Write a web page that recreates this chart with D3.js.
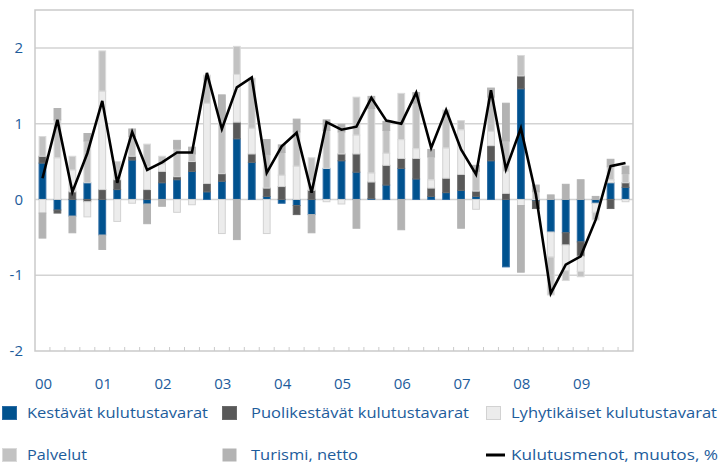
<!DOCTYPE html>
<html>
<head>
<meta charset="utf-8">
<script src="https://cdn.jsdelivr.net/npm/d3@7"></script>
<style>
  body { margin: 0; background: #fff; }
  text { font-family: "Open Sans", "Noto Sans", sans-serif; fill: #1d5c9b; }
</style>
</head>
<body>
<div class="chart"></div>
<script>
/* Kulutusmenojen muutos ja sen osatekijät, neljännesvuosittain 2000-2009 */

var years = ["00", "01", "02", "03", "04", "05", "06", "07", "08", "09"];
var quarters = [];
years.forEach(function (y) { for (var q = 1; q <= 4; q++) quarters.push(y + "Q" + q); });

var kestavat = [0.48, -0.14, -0.22, 0.22, -0.47, 0.13, 0.52, -0.06, 0.22, 0.26,
                0.37, 0.10, 0.24, 0.80, 0.49, 0.04, -0.05, -0.08, -0.20, 0.41,
                0.51, 0.36, 0.01, 0.19, 0.41, 0.27, 0.04, 0.09, 0.12, 0.04,
                0.51, -0.89, 1.46, -0.02, -0.43, -0.44, -0.56, -0.05, 0.22, 0.16];
var puolikestavat = [0.09, -0.04, 0.10, -0.03, 0.13, 0.13, 0.05, 0.13, 0.15, 0.04,
                0.13, 0.11, 0.10, 0.22, 0.11, 0.11, 0.17, -0.12, 0.12, 0.00,
                0.09, 0.24, 0.22, 0.26, 0.13, 0.27, 0.11, 0.19, 0.21, 0.07,
                0.20, 0.08, 0.17, -0.10, 0.00, -0.16, -0.19, 0.00, -0.12, 0.06];
var lyhytikaiset = [-0.18, 0.55, 0.29, -0.20, 1.30, -0.29, -0.05, 0.30, 0.10, -0.17,
                -0.07, 1.06, -0.45, 0.63, 0.34, -0.45, 0.15, 0.44, 0.13, -0.03,
                -0.06, 0.25, 0.12, 0.16, 0.25, 0.13, 0.11, 0.40, 0.59, -0.13,
                0.19, 0.29, -0.08, 0.00, -0.33, -0.34, -0.20, -0.12, 0.04, -0.03];
var palvelut = [0.26, 0.50, 0.18, 0.55, 0.53, 0.24, 0.26, 0.30, 0.10, 0.37,
                0.10, 0.37, 0.70, 0.37, 0.66, 0.44, 0.30, 0.45, 0.30, 0.50,
                0.29, 0.50, 0.85, 0.30, 0.61, 0.60, 0.30, 0.50, 0.12, 0.26,
                0.45, 0.40, 0.27, 0.10, -0.50, -0.13, -0.07, -0.10, 0.17, 0.12];
var turismi = [-0.33, 0.15, -0.22, 0.10, -0.19, 0.00, 0.10, -0.26, -0.09, 0.11,
                0.09, 0.00, 0.34, -0.53, 0.00, 0.20, 0.10, 0.17, -0.24, 0.14,
                0.10, -0.38, 0.16, 0.12, -0.40, 0.14, 0.10, 0.00, -0.38, 0.08,
                0.12, 0.50, -0.88, 0.09, 0.06, 0.20, 0.26, 0.04, 0.10, 0.10];
var kulutusmenot = [0.28, 1.05, 0.10, 0.61, 1.30, 0.22, 0.89, 0.39, 0.49, 0.62,
                0.62, 1.67, 0.93, 1.48, 1.61, 0.35, 0.70, 0.88, 0.09, 1.02,
                0.92, 0.96, 1.34, 1.04, 1.00, 1.41, 0.68, 1.18, 0.66, 0.33,
                1.44, 0.40, 0.94, 0.07, -1.24, -0.86, -0.75, -0.27, 0.44, 0.48];

var yTicks = [-2, -1, 0, 1, 2];

var series = [
  {key: "k", name: "Kestävät kulutustavarat", values: kestavat, fill: "#00528f", stroke: "#2a6aa3"},
  {key: "p", name: "Puolikestävät kulutustavarat", values: puolikestavat, fill: "#595959", stroke: "#6a6a6a"},
  {key: "l", name: "Lyhytikäiset kulutustavarat", values: lyhytikaiset, fill: "#ececec", stroke: "#d2d2d2"},
  {key: "s", name: "Palvelut", values: palvelut, fill: "#c2c2c2", stroke: "#dadada"},
  {key: "t", name: "Turismi, netto", values: turismi, fill: "#b3b3b3", stroke: "#b3b3b3"}
];

drawChart();

function drawChart() {

  var width = 719, height = 466;
  var plot = {left: 35, right: 633, top: 10, bottom: 351};

  var svg = d3.select(".chart")
    .append("svg")
    .attr("width", width)
    .attr("height", height);

  var x = d3.scaleBand().domain(quarters).range([plot.left, plot.right]).paddingInner(0.48).paddingOuter(0.24);
  var y = d3.scaleLinear().domain([-2, 2.5]).range([plot.bottom, plot.top]);

  // grid
  svg.append("g")
    .selectAll("line")
    .data(yTicks.filter(function (d) { return d > -2; }))
    .enter()
    .append("line")
    .attr("x1", plot.left).attr("x2", plot.right)
    .attr("y1", function (d) { return y(d); }).attr("y2", function (d) { return y(d); })
    .style("stroke", "#d3d3d3").style("stroke-width", 1.5);

  svg.append("rect")
    .attr("x", plot.left).attr("y", plot.top)
    .attr("width", plot.right - plot.left).attr("height", plot.bottom - plot.top)
    .style("fill", "none").style("stroke", "#cacaca").style("stroke-width", 1.5);

  // quarter ticks on bottom
  var step = (plot.right - plot.left) / quarters.length;
  svg.append("g")
    .selectAll("line")
    .data(d3.range(1, quarters.length))
    .enter()
    .append("line")
    .attr("x1", function (i) { return plot.left + i * step; })
    .attr("x2", function (i) { return plot.left + i * step; })
    .attr("y1", plot.bottom).attr("y2", plot.bottom - 4)
    .style("stroke", "#cacaca").style("stroke-width", 1);

  // stacked bars
  var table = quarters.map(function (q, i) {
    var row = {q: q};
    series.forEach(function (s) { row[s.key] = s.values[i]; });
    return row;
  });

  var stack = d3.stack()
    .keys(series.map(function (s) { return s.key; }))
    .offset(d3.stackOffsetDiverging);

  var layers = stack(table);

  svg.append("g")
    .selectAll("g")
    .data(layers)
    .enter()
    .append("g")
    .each(function (layer, li) {
      var s = series[li];
      d3.select(this).selectAll("rect")
        .data(layer.filter(function (d) { return d[1] !== d[0]; }))
        .enter()
        .append("rect")
        .attr("x", function (d) { return x(d.data.q) + 0.5; })
        .attr("width", x.bandwidth() - 1)
        .attr("y", function (d) { return y(Math.max(d[0], d[1])); })
        .attr("height", function (d) { return Math.abs(y(d[0]) - y(d[1])); })
        .style("fill", s.fill)
        .style("stroke", s.stroke)
        .style("stroke-width", 1);
    });

  // line
  var line = d3.line()
    .x(function (d, i) { return x(quarters[i]) + x.bandwidth() / 2; })
    .y(function (d) { return y(d); });

  svg.append("path")
    .datum(kulutusmenot)
    .attr("d", line)
    .style("fill", "none")
    .style("stroke", "#000")
    .style("stroke-width", 2.6)
    .style("stroke-linejoin", "miter");

  // y labels
  svg.append("g")
    .selectAll("text")
    .data(yTicks)
    .enter()
    .append("text")
    .attr("x", 23)
    .attr("y", function (d) { return y(d); })
    .attr("dy", "0.35em")
    .attr("text-anchor", "end")
    .style("font-size", "15px")
    .text(function (d) { return d < 0 ? "-" + Math.abs(d) : d; });

  // year labels
  svg.append("g")
    .selectAll("text")
    .data(years)
    .enter()
    .append("text")
    .attr("x", function (d) { return x(d + "Q1") + x.bandwidth() / 2 + 1; })
    .attr("y", 389)
    .attr("text-anchor", "middle")
    .style("font-size", "15px")
    .text(function (d) { return d; });

  // legend
  var legendItems = [
    {s: series[0], sx: 2, tx: 27, row: 0, w: 181},
    {s: series[1], sx: 222, tx: 251, row: 0, w: 218},
    {s: series[2], sx: 486, tx: 511, row: 0, w: 206},
    {s: series[3], sx: 2, tx: 27, row: 1, w: 60},
    {s: series[4], sx: 222, tx: 251, row: 1, w: 107}
  ];
  var rowY = [413, 455];

  var lg = svg.append("g");
  legendItems.forEach(function (d) {
    lg.append("rect")
      .attr("x", d.sx + 0.5).attr("y", rowY[d.row] - 6.5)
      .attr("width", 14).attr("height", 13)
      .style("fill", d.s.fill).style("stroke", d.s.key === "t" ? "none" : d.s.stroke);
    lg.append("text")
      .attr("x", d.tx).attr("y", rowY[d.row])
      .attr("dy", "0.35em")
      .attr("textLength", d.w)
      .attr("lengthAdjust", "spacingAndGlyphs")
      .style("font-size", "15px")
      .text(d.s.name);
  });

  lg.append("line")
    .attr("x1", 486).attr("x2", 505)
    .attr("y1", rowY[1]).attr("y2", rowY[1])
    .style("stroke", "#000").style("stroke-width", 3);
  lg.append("text")
    .attr("x", 511).attr("y", rowY[1])
    .attr("dy", "0.35em")
    .attr("textLength", 207)
    .attr("lengthAdjust", "spacingAndGlyphs")
    .style("font-size", "15px")
    .text("Kulutusmenot, muutos, %");
}
</script>
</body>
</html>
